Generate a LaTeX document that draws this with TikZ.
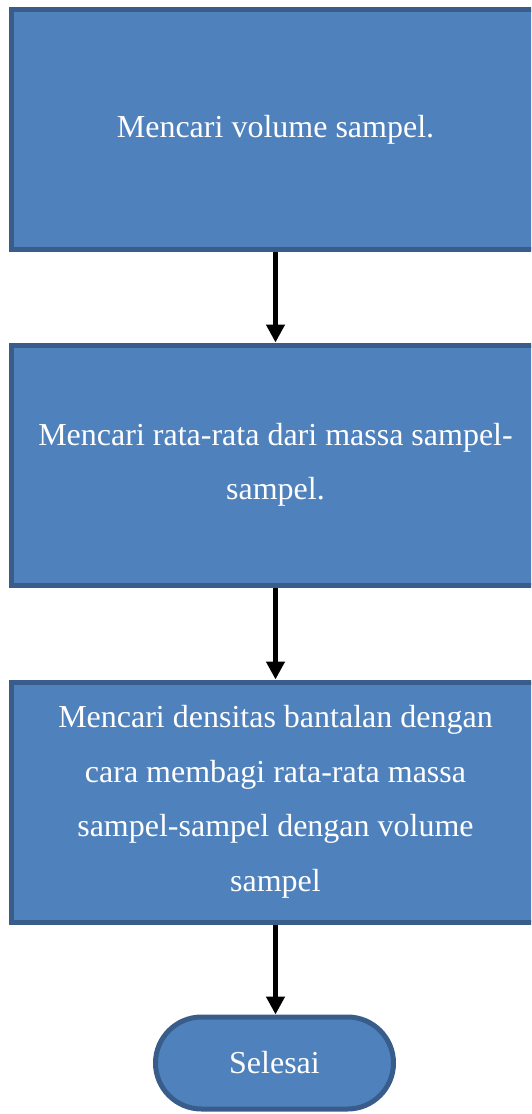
\documentclass[tikz,border=0pt]{standalone}
\usepackage{fontspec}
\setmainfont{Liberation Serif}
\usetikzlibrary{arrows.meta,shapes.misc}
\definecolor{boxfill}{HTML}{4F81BD}
\definecolor{boxline}{HTML}{385D8A}
\tikzset{
  stepbox/.style={draw=boxline, fill=boxfill, line width=5pt, minimum width=528pt,
    minimum height=240pt, text=white, align=center, inner sep=0pt,
    font=\fontsize{32pt}{54.5pt}\selectfont},
  termbox/.style={draw=boxline, fill=boxfill, line width=5pt, rounded rectangle,
    minimum width=238pt, minimum height=92pt, text=white, inner sep=0pt,
    font=\fontsize{32pt}{54.5pt}\selectfont},
  arr/.style={line width=5pt, -{Triangle[width=18pt,length=18pt]}}
}
\begin{document}
\begin{tikzpicture}[x=1pt,y=-1pt]
\useasboundingbox (0,0) rectangle (531,1114);
\clip (0,0) rectangle (531,1114);
\node[stepbox] (b1) at (275.5,129.5) {Mencari volume sampel.};
\node[stepbox] (b2) at (275.5,465) {Mencari rata-rata dari massa sampel-\\sampel.};
\node[stepbox] (b3) at (275.5,802) {Mencari densitas bantalan dengan\\cara membagi rata-rata massa\\sampel-sampel dengan volume\\sampel};
\node[termbox] (t) at (274.5,1063) {Selesai};
\draw[arr] (b1.south) -- (b2.north);
\draw[arr] (b2.south) -- (b3.north);
\draw[arr] (b3.south) -- (b3.south |- t.north);
\end{tikzpicture}
\end{document}
